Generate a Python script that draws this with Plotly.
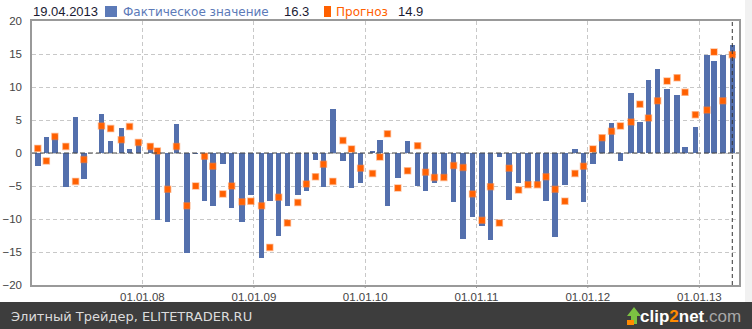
import plotly.graph_objects as go
import pandas as pd

# Monthly release dates and values
dates = [
    "2007-01-23", "2007-02-20", "2007-03-20", "2007-04-25", "2007-05-27", "2007-06-23",
    "2007-08-20", "2007-09-19", "2007-10-24", "2007-11-20", "2007-12-19",
    "2008-01-27", "2008-02-19", "2008-03-24", "2008-04-22", "2008-05-26", "2008-06-24",
    "2008-07-23", "2008-08-19", "2008-09-21", "2008-10-20", "2008-11-23", "2008-12-22",
    "2009-01-26", "2009-02-22", "2009-03-23", "2009-04-21", "2009-05-25", "2009-06-22",
    "2009-07-22", "2009-08-17", "2009-09-17", "2009-10-20", "2009-11-17", "2009-12-17",
    "2010-01-25", "2010-02-18", "2010-03-15", "2010-04-18", "2010-05-20", "2010-06-22",
    "2010-07-18", "2010-08-16", "2010-09-16", "2010-10-18", "2010-11-18", "2010-12-19",
    "2011-01-19", "2011-02-16", "2011-03-17", "2011-04-18", "2011-05-19", "2011-06-19",
    "2011-07-20", "2011-08-17", "2011-09-16", "2011-10-18", "2011-11-20", "2011-12-18",
    "2012-01-18", "2012-02-17", "2012-03-19", "2012-04-17", "2012-05-22", "2012-06-20",
    "2012-07-18", "2012-08-17", "2012-09-17", "2012-10-20", "2012-11-15", "2012-12-19",
    "2013-01-26", "2013-02-18", "2013-03-19", "2013-04-19",
]

actual = [
    -1.9, 2.4, 2.7, -5.1, 5.5, -3.9,
    5.9, 1.8, 3.8, 0.6, 1.3,
    0.7, -10.2, -10.5, 4.4, -15.2, -0.1, -7.3, -8.0, -1.6, -8.3, -10.5, -6.3,
    -15.9, -7.3, -12.6, -8.0, -6.3, -5.7, -1.0, -5.1, 6.7, -1.2, -5.3, -4.5,
    0.3, 1.9, -8.0, -3.8, 1.8, -5.0, -5.7, -4.5, -3.8, -7.4, -13.0, -9.7,
    -11.1, -13.2, -0.6, -7.1, -4.5, -5.1, -5.1, -7.3, -12.7, -4.8, 0.6, -7.4,
    -1.6, 2.1, 4.6, -1.2, 9.1, 4.7, 11.0, 12.8, 9.7, 8.8, 0.9, 4.0,
    14.9, 14.0, 14.9, 16.3,
]

forecast = [
    0.7, -1.2, 2.5, 1.0, -4.3, -1.0,
    4.1, 3.7, 2.0, 4.0, 1.6,
    1.0, 0.3, -5.5, 1.0, -8.0, -5.0, -0.5, -2.0, -6.2, -5.0, -7.4, -7.3,
    -8.0, -14.3, -6.7, -10.6, -7.5, -4.7, -3.6, -1.7, -4.3, 1.9, 0.6, -2.3,
    -3.1, -0.6, 2.9, -5.3, -2.7, 1.1, -2.9, -3.7, -3.7, -1.9, -2.2, -6.2,
    -10.2, -5.1, -10.6, -2.3, -5.6, -4.8, -4.8, -3.6, -5.5, -7.3, -3.1, -2.0,
    0.6, 2.3, 3.3, 4.1, 4.7, 7.4, 5.3, 7.9, 10.9, 11.4, 9.2, 5.8,
    6.5, 15.3, 7.9, 14.9,
]

year_ticks = ["2008-01-01", "2009-01-01", "2010-01-01", "2011-01-01", "2012-01-01", "2013-01-01"]
y_ticks = [-20, -15, -10, -5, 0, 5, 10, 15, 20]

name_actual = "Фактическое значение"
name_forecast = "Прогноз"
footer_text = "Элитный Трейдер, ELITETRADER.RU"

BAR_BLUE = "#5470ad"
LEGEND_BLUE = "#5c7ab8"
ORANGE = "#ff6000"
GRID = "#c8c8c8"

W, H = 752, 329
ML, MR, MT, MB = 32, 13, 21, 44
PW, PH = W - ML - MR, H - MT - MB


def px(x):
    return (x - ML) / PW


def py(y):
    return (H - MB - y) / PH


fig = go.Figure()

fig.add_trace(go.Bar(
    x=dates, y=actual, name=name_actual,
    marker=dict(color=BAR_BLUE, line=dict(width=0)),
    width=18 * 86400000,
    showlegend=False,
))

fig.add_trace(go.Scatter(
    x=dates, y=forecast, name=name_forecast, mode="markers",
    marker=dict(symbol="square", size=6, color=ORANGE,
                line=dict(width=1.5, color="rgba(255,120,40,0.45)")),
    showlegend=False,
))

last_date = pd.Timestamp(dates[-1])

shapes = [
    # light strip on the right edge
    dict(type="rect", xref="paper", yref="paper", x0=px(745), x1=px(W + 2),
         y0=py(302), y1=py(-2), fillcolor="#f1f1f1", line=dict(width=0), layer="below"),
    # zero line
    dict(type="line", xref="paper", yref="y", x0=0, x1=1, y0=0, y1=0,
         line=dict(color="#444444", width=1, dash="5px,3px")),
    # current date marker
    dict(type="line", xref="x", yref="paper", x0=dates[-1], x1=dates[-1], y0=0, y1=1,
         line=dict(color="#333333", width=1, dash="4px,3px")),
    # footer band
    dict(type="rect", xref="paper", yref="paper", x0=px(-2), x1=px(W + 2),
         y0=py(H + 2), y1=py(302), fillcolor="#3d3d3d", line=dict(width=0)),
    # legend swatches
    dict(type="rect", xref="paper", yref="paper", x0=px(105), x1=px(117),
         y0=py(17), y1=py(6), fillcolor=LEGEND_BLUE, line=dict(width=0)),
    dict(type="rect", xref="paper", yref="paper", x0=px(324), x1=px(331),
         y0=py(17), y1=py(6), fillcolor=ORANGE, line=dict(width=0)),
    # clip2net arrow icon
    dict(type="path", xref="paper", yref="paper",
         path=f"M {px(627)} {py(316)} L {px(634)} {py(307)} L {px(641)} {py(316)} "
              f"L {px(637)} {py(316)} L {px(637)} {py(324)} L {px(631)} {py(324)} "
              f"L {px(631)} {py(316)} Z",
         fillcolor="#7cc242", line=dict(width=0)),
    dict(type="rect", xref="paper", yref="paper", x0=px(627), x1=px(634),
         y0=py(325), y1=py(320), fillcolor="#ff8a00", line=dict(width=0)),
]

# short tick marks under the date axis at each year boundary
for t in year_ticks:
    shapes.append(dict(type="line", xref="x", yref="paper", x0=t, x1=t,
                       y0=py(285), y1=py(288), line=dict(color="#999999", width=1)))

leg_y = py(11.5)
legend_font = "DejaVu Sans, Verdana, sans-serif"
num_font = "Liberation Sans, Arial, sans-serif"

annotations = [
    dict(text=last_date.strftime("%d.%m.%Y"), x=px(31), y=leg_y, xref="paper", yref="paper",
         xanchor="left", yanchor="middle", showarrow=False,
         font=dict(family=num_font, size=13, color="#1a1a33")),
    dict(text=name_actual, x=px(121), y=leg_y, xref="paper", yref="paper",
         xanchor="left", yanchor="middle", showarrow=False,
         font=dict(family=legend_font, size=12, color=LEGEND_BLUE)),
    dict(text=f"{actual[-1]:.1f}", x=px(282), y=leg_y, xref="paper", yref="paper",
         xanchor="left", yanchor="middle", showarrow=False,
         font=dict(family=num_font, size=13, color="#1a1a33")),
    dict(text=name_forecast, x=px(334), y=leg_y, xref="paper", yref="paper",
         xanchor="left", yanchor="middle", showarrow=False,
         font=dict(family=legend_font, size=12, color=ORANGE)),
    dict(text=f"{forecast[-1]:.1f}", x=px(396), y=leg_y, xref="paper", yref="paper",
         xanchor="left", yanchor="middle", showarrow=False,
         font=dict(family=num_font, size=13, color="#1a1a33")),
    dict(text=footer_text, x=px(9), y=py(316), xref="paper", yref="paper",
         xanchor="left", yanchor="middle", showarrow=False,
         font=dict(family=legend_font, size=13, color="#dcdcdc")),
    dict(text="<b>clip<span style='color:#ff8a00'>2</span>net</b>"
              "<span style='color:#a8a8a8'>.com</span>",
         x=px(743), y=py(316), xref="paper", yref="paper",
         xanchor="right", yanchor="middle", showarrow=False,
         font=dict(family="Liberation Sans, Arial, sans-serif", size=17, color="#ffffff")),
]

fig.update_layout(
    width=W, height=H,
    margin=dict(l=ML, r=MR, t=MT, b=MB, pad=0, autoexpand=False),
    paper_bgcolor="white", plot_bgcolor="white",
    bargap=0,
    shapes=shapes,
    annotations=annotations,
    xaxis=dict(
        type="date",
        range=["2007-01-04", "2013-05-11"],
        tickvals=year_ticks,
        tickformat="%d.%m.%y",
        showgrid=True, gridcolor=GRID, griddash="4px,3px", gridwidth=1,
        showline=True, linecolor="#999999", linewidth=1.5, mirror=True,
        ticks="",
        tickfont=dict(family=num_font, size=11.5, color="#444444"),
        zeroline=False, automargin=False,
    ),
    yaxis=dict(
        range=[-20, 20],
        tickvals=y_ticks,
        showgrid=True, gridcolor=GRID, griddash="4px,3px", gridwidth=1,
        showline=True, linecolor="#999999", linewidth=1.5, mirror=True,
        ticks="", ticklabelstandoff=6,
        tickfont=dict(family=num_font, size=11.5, color="#444444"),
        zeroline=False, automargin=False,
    ),
)

fig.write_html("out.html")
